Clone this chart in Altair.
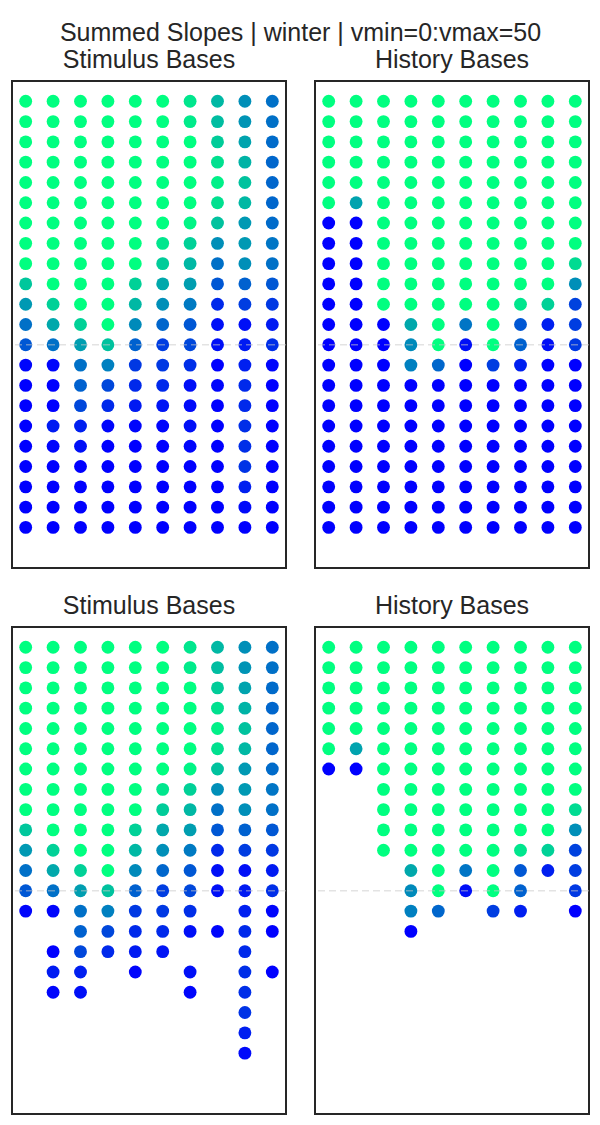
import altair as alt
import pandas as pd

main_title = "Summed Slopes | winter | vmin=0:vmax=50"
panel_titles = ["Stimulus Bases", "History Bases", "Stimulus Bases", "History Bases"]
dashed_line_row = 12

# Summed slope values, rows top-to-bottom, 10 columns each
stim_values = [
    [50, 50, 50, 50, 50, 50, 45, 36, 28, 22],
    [50, 50, 50, 50, 50, 50, 46, 37, 29, 22],
    [50, 50, 50, 50, 50, 50, 50, 40, 32, 21],
    [50, 50, 50, 50, 50, 50, 50, 44, 35, 20],
    [50, 50, 50, 50, 50, 50, 50, 47, 38, 20],
    [50, 50, 50, 50, 50, 50, 50, 44, 36, 20],
    [50, 50, 50, 50, 50, 50, 48, 38, 30, 21],
    [50, 50, 50, 50, 50, 45, 41, 28, 30, 23],
    [50, 50, 50, 50, 50, 40, 36, 22, 28, 22],
    [39, 50, 50, 50, 41, 33, 31, 17, 19, 17],
    [30, 41, 50, 50, 36, 28, 24, 8, 12, 11],
    [22, 33, 41, 50, 27, 20, 17, 3, 3, 5],
    [17, 22, 31, 38, 19, 12, 14, 3, 5, 9],
    [1, 1, 22, 25, 11, 11, 9, 0, 6, 1],
    [0, 0, 19, 14, 8, 8, 3, 1, 8, 0],
    [0, 0, 14, 8, 5, 4, 2, 0, 8, 0],
    [0, 5, 6, 1, 1, 1, 3, 0, 9, 0],
    [0, 1, 3, 0, 0, 0, 1, 0, 9, 0],
    [0, 0, 0, 0, 0, 0, 0, 0, 10, 0],
    [0, 0, 0, 0, 0, 0, 0, 0, 6, 0],
    [0, 0, 0, 0, 0, 0, 0, 0, 2, 0],
    [0, 0, 0, 0, 0, 0, 0, 0, 0, 0],
]

hist_values = [
    [50, 50, 50, 50, 50, 50, 50, 50, 50, 50],
    [50, 50, 50, 50, 50, 50, 50, 50, 50, 50],
    [50, 50, 50, 50, 50, 50, 50, 50, 50, 50],
    [50, 50, 50, 50, 50, 50, 50, 50, 50, 50],
    [50, 50, 50, 50, 50, 50, 50, 50, 50, 50],
    [50, 32, 50, 50, 50, 50, 50, 50, 50, 50],
    [0, 0, 50, 50, 50, 50, 50, 50, 50, 50],
    [0, 0, 50, 50, 50, 50, 50, 50, 50, 50],
    [0, 0, 50, 50, 50, 50, 50, 50, 50, 43],
    [0, 0, 50, 50, 50, 50, 50, 50, 50, 28],
    [0, 0, 50, 50, 50, 50, 50, 45, 41, 13],
    [0, 0, 0, 33, 50, 23, 50, 17, 6, 12],
    [0, 0, 0, 27, 50, 3, 50, 19, 3, 11],
    [0, 0, 0, 25, 20, 0, 12, 6, 0, 0],
    [0, 0, 0, 0, 0, 0, 0, 0, 0, 0],
    [0, 0, 0, 0, 0, 0, 0, 0, 0, 0],
    [0, 0, 0, 0, 0, 0, 0, 0, 0, 0],
    [0, 0, 0, 0, 0, 0, 0, 0, 0, 0],
    [0, 0, 0, 0, 0, 0, 0, 0, 0, 0],
    [0, 0, 0, 0, 0, 0, 0, 0, 0, 0],
    [0, 0, 0, 0, 0, 0, 0, 0, 0, 0],
    [0, 0, 0, 0, 0, 0, 0, 0, 0, 0],
]

# Which cells are shown in the lower panels ("1" = shown)
stim_mask_lower = [
    "1111111111", "1111111111", "1111111111", "1111111111",
    "1111111111", "1111111111", "1111111111", "1111111111",
    "1111111111", "1111111111", "1111111111", "1111111111",
    "1111111111", "1111111011", "0011111111", "0111110010",
    "0110101011", "0110001010", "0000000010", "0000000010",
    "0000000010", "0000000000",
]
hist_mask_lower = [
    "1111111111", "1111111111", "1111111111", "1111111111",
    "1111111111", "1111111111", "1111111111", "0011111111",
    "0011111111", "0011111111", "0011111111", "0001111111",
    "0001111101", "0001101101", "0001000000", "0000000000",
    "0000000000", "0000000000", "0000000000", "0000000000",
    "0000000000", "0000000000",
]


def to_frame(values, mask=None):
    recs = []
    for r, vals in enumerate(values):
        for c, v in enumerate(vals):
            if mask is None or mask[r][c] == "1":
                recs.append({"row": r, "col": c, "value": v})
    return pd.DataFrame(recs)


FONT = "Liberation Sans"
TXT = "#262626"

color_scale = alt.Scale(domain=[0, 50], range=["#0000ff", "#00ff80"],
                        interpolate="rgb", clamp=True)
x_scale = alt.Scale(domain=[-0.5, 9.5], nice=False, zero=False)
y_scale = alt.Scale(domain=[-1, 23], reverse=True, nice=False, zero=False)


def panel(df, title):
    pts = alt.Chart(df).mark_circle(size=165, opacity=1).encode(
        x=alt.X("col:Q", scale=x_scale, axis=None),
        y=alt.Y("row:Q", scale=y_scale, axis=None),
        color=alt.Color("value:Q", scale=color_scale, legend=None),
    )
    rule = alt.Chart(pd.DataFrame({"row": [dashed_line_row]})).mark_rule(
        color="#c8c8c8", opacity=0.5, strokeDash=[7, 4], strokeWidth=1.5
    ).encode(y=alt.Y("row:Q", scale=y_scale, axis=None))
    return alt.layer(pts, rule).properties(
        width=274, height=487,
        title=alt.TitleParams(title, fontSize=25, font=FONT, color=TXT,
                              fontWeight="normal", offset=8),
    )


p1 = panel(to_frame(stim_values), panel_titles[0])
p2 = panel(to_frame(hist_values), panel_titles[1])
p3 = panel(to_frame(stim_values, stim_mask_lower), panel_titles[2])
p4 = panel(to_frame(hist_values, hist_mask_lower), panel_titles[3])

chart = alt.vconcat(
    alt.hconcat(p1, p2, spacing=25),
    alt.hconcat(p3, p4, spacing=25),
    spacing=24,
).properties(
    title=alt.TitleParams(main_title, fontSize=25, font=FONT, color=TXT,
                          fontWeight="normal", anchor="middle", offset=1),
    padding={"left": 2, "top": 13, "right": 0, "bottom": 0},
).configure_view(stroke="#262626", strokeWidth=2)

chart.save("out.html", embed_options={"renderer": "svg", "actions": False})
